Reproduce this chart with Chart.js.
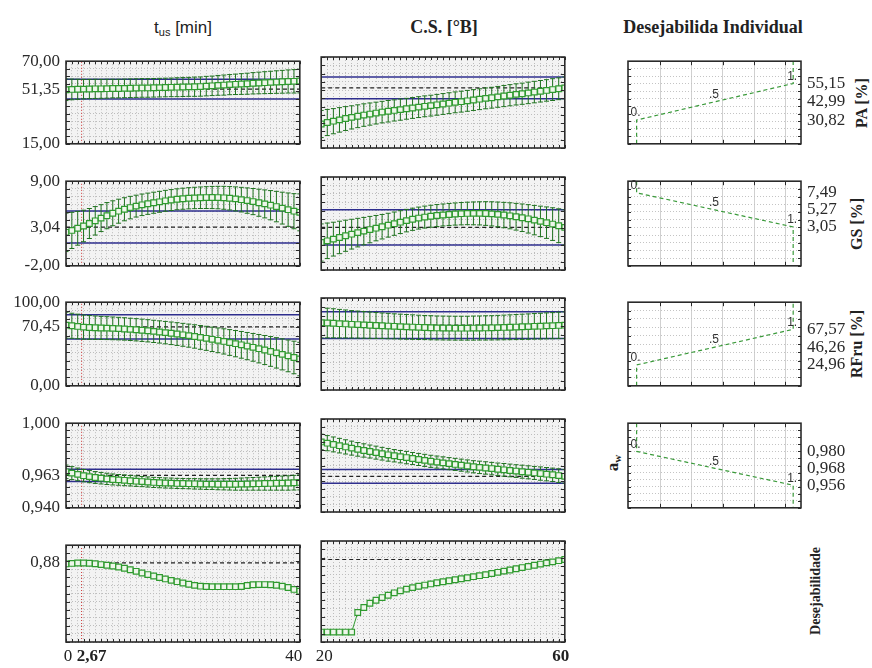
<!DOCTYPE html>
<html>
<head>
<meta charset="utf-8">
<script src="https://cdn.jsdelivr.net/npm/chart.js@4.4.0/dist/chart.umd.min.js"></script>
<style>
  body { margin: 0; width: 872px; height: 668px; position: relative; overflow: hidden; background: #fff; color: #222; }
  canvas { position: absolute; }
  .lbl { position: absolute; white-space: nowrap; transform: translate(-50%, -50%); font-family: "Liberation Serif", "Times New Roman", serif; }
  .rot { position: absolute; white-space: nowrap; transform: translate(-50%, -50%) rotate(-90deg); font-family: "Liberation Serif", "Times New Roman", serif; font-weight: bold; }
  sub { font-size: 0.65em; vertical-align: -0.25em; }
</style>
</head>
<body>
<div class="lbl" style="left:183px;top:28px;font-family:'Liberation Sans',Arial,sans-serif;font-size:17px">t<sub>us</sub> [min]</div>
<div class="lbl" style="left:444px;top:27px;font-size:18px;font-weight:bold">C.S. [°B]</div>
<div class="lbl" style="left:713px;top:27px;font-size:18px;font-weight:bold">Desejabilida Individual</div>
<div class="rot" style="left:862px;top:103px;font-size:16px">PA [%]</div>
<div class="rot" style="left:857px;top:224px;font-size:16px">GS [%]</div>
<div class="rot" style="left:857px;top:344px;font-size:16px">RFru [%]</div>
<div class="rot" style="left:613px;top:463px;font-size:17px">a<sub>w</sub></div>
<div class="rot" style="left:816px;top:591px;font-size:14px">Desejabilidade</div>

<script>
// ---- factor levels ----
const tusX = [0,1,2,3,4,5,6,7,8,9,10,11,12,13,14,15,16,17,18,19,20,21,22,23,24,25,26,27,28,29,30,31,32,33,34,35,36,37,38,39,40];
const csX  = [20,21,22,23,24,25,26,27,28,29,30,31,32,33,34,35,36,37,38,39,40,41,42,43,44,45,46,47,48,49,50,51,52,53,54,55,56,57,58,59,60];
const tusCur = 2.67;
const csCur = 60;

// ---- predicted responses (value, CI half width) ----
const paTus   = [51.0,51.2,51.3,51.4,51.5,51.6,51.6,51.7,51.8,51.8,51.9,52.0,52.1,52.2,52.2,52.3,52.4,52.5,52.6,52.7,52.8,52.9,53.0,53.1,53.4,53.6,53.9,54.1,54.4,54.6,54.8,55.0,55.3,55.5,55.7,55.9,56.1,56.3,56.5,56.6,56.8];
const paTusCI = [7.2,6.9,6.7,6.5,6.4,6.4,6.3,6.3,6.2,6.2,6.2,6.2,6.2,6.2,6.2,6.2,6.2,6.2,6.2,6.3,6.3,6.3,6.4,6.4,6.5,6.5,6.6,6.7,6.7,6.8,6.9,7.0,7.1,7.2,7.3,7.4,7.5,7.6,7.7,7.8,7.9];
const paCs    = [29.5,30.4,31.2,32.0,32.8,33.5,34.2,34.9,35.5,36.1,36.7,37.2,37.7,38.2,38.7,39.2,39.7,40.2,40.6,41.1,41.6,42.1,42.6,43.0,43.5,44.0,44.5,45.0,45.4,45.9,46.4,46.9,47.4,47.8,48.3,48.8,49.3,49.8,50.3,50.8,51.35];
const paCsCI  = [8.2,7.9,7.6,7.4,7.2,7.0,6.9,6.8,6.7,6.6,6.5,6.5,6.4,6.4,6.3,6.3,6.3,6.3,6.3,6.3,6.3,6.3,6.3,6.3,6.3,6.3,6.3,6.3,6.3,6.3,6.4,6.4,6.4,6.4,6.5,6.5,6.5,6.5,6.6,6.6,6.6];

const gsTus   = [2.35,2.6,2.88,3.18,3.5,3.85,4.2,4.52,4.83,5.1,5.35,5.57,5.76,5.93,6.07,6.2,6.32,6.45,6.55,6.65,6.72,6.78,6.82,6.85,6.87,6.88,6.87,6.84,6.78,6.7,6.6,6.48,6.35,6.2,6.05,5.88,5.7,5.5,5.3,5.1,4.95];
const gsTusCI = [2.5,2.35,2.2,2.05,1.95,1.85,1.75,1.7,1.62,1.56,1.5,1.46,1.42,1.4,1.38,1.37,1.36,1.36,1.36,1.36,1.37,1.38,1.39,1.4,1.42,1.44,1.46,1.49,1.52,1.56,1.6,1.65,1.7,1.76,1.82,1.9,1.98,2.07,2.17,2.28,2.4];
const gsCs    = [1.25,1.45,1.65,1.85,2.05,2.24,2.42,2.6,2.78,2.95,3.12,3.3,3.48,3.66,3.84,4.0,4.14,4.26,4.36,4.44,4.51,4.57,4.62,4.66,4.69,4.7,4.7,4.68,4.64,4.58,4.5,4.41,4.3,4.18,4.05,3.9,3.75,3.6,3.43,3.24,3.04];
const gsCsCI  = [2.2,2.1,2.0,1.92,1.84,1.76,1.69,1.62,1.56,1.5,1.45,1.41,1.38,1.35,1.33,1.31,1.3,1.3,1.3,1.3,1.3,1.3,1.31,1.32,1.33,1.35,1.37,1.4,1.43,1.46,1.5,1.54,1.58,1.63,1.68,1.74,1.8,1.86,1.93,2.0,2.08];

const rfTus   = [72.5,71.8,71.0,70.2,69.8,69.5,69.2,69.0,68.7,68.4,68.0,67.5,67.0,66.4,65.8,65.1,64.4,63.6,62.8,61.9,61.0,60.0,59.0,57.9,56.8,55.6,54.4,53.1,51.8,50.4,49.0,47.5,46.0,44.4,42.8,41.1,39.4,37.6,35.8,33.9,32.0];
const rfTusCI = [15.5,15.0,14.7,14.4,14.2,14.0,13.8,13.7,13.6,13.5,13.4,13.3,13.3,13.3,13.3,13.3,13.3,13.4,13.5,13.6,13.7,13.8,14.0,14.2,14.4,14.6,14.8,15.1,15.4,15.7,16.0,16.3,16.6,17.0,17.4,17.8,18.2,18.6,19.0,19.5,20.0];
const rfCs    = [73.2,72.8,72.5,72.1,71.8,71.4,71.1,70.8,70.4,70.1,69.8,69.5,69.2,68.9,68.6,68.4,68.1,67.9,67.7,67.5,67.4,67.3,67.2,67.2,67.2,67.3,67.4,67.5,67.6,67.8,68.0,68.2,68.4,68.7,68.9,69.2,69.4,69.7,69.9,70.2,70.45];
const rfCsCI  = [16.5,16.1,15.8,15.5,15.2,14.9,14.7,14.5,14.3,14.1,13.9,13.8,13.6,13.5,13.4,13.3,13.2,13.1,13.1,13.0,13.0,13.0,13.0,13.0,13.0,13.1,13.1,13.2,13.2,13.3,13.4,13.5,13.6,13.7,13.8,13.9,14.0,14.1,14.2,14.35,14.5];

const awTus   = [0.9655,0.9646,0.9637,0.9628,0.9621,0.9615,0.9610,0.9605,0.9601,0.9598,0.9595,0.9592,0.9589,0.9586,0.9583,0.9580,0.9578,0.9576,0.9575,0.9573,0.9572,0.9571,0.9570,0.9569,0.9568,0.9568,0.9567,0.9567,0.9567,0.9567,0.9568,0.9569,0.9570,0.9571,0.9572,0.9573,0.9574,0.9575,0.9576,0.9578,0.9580];
const awTusCI = [0.0048,0.0046,0.0045,0.0044,0.0043,0.0042,0.0041,0.0040,0.0039,0.0038,0.0038,0.0037,0.0037,0.0036,0.0036,0.0036,0.0036,0.0036,0.0036,0.0036,0.0036,0.0036,0.0037,0.0037,0.0038,0.0038,0.0039,0.0040,0.0041,0.0042,0.0043,0.0044,0.0045,0.0046,0.0047,0.0048,0.0049,0.0050,0.0051,0.0052,0.0053];
const awCs    = [0.9852,0.9844,0.9836,0.9828,0.9820,0.9812,0.9804,0.9797,0.9790,0.9783,0.9776,0.9769,0.9763,0.9757,0.9751,0.9745,0.9739,0.9733,0.9727,0.9722,0.9717,0.9712,0.9707,0.9702,0.9697,0.9692,0.9688,0.9684,0.9680,0.9676,0.9672,0.9668,0.9664,0.9660,0.9656,0.9652,0.9648,0.9644,0.9640,0.9635,0.9630];
const awCsCI  = [0.0050,0.0049,0.0048,0.0047,0.0046,0.0045,0.0044,0.0043,0.0042,0.0042,0.0041,0.0041,0.0040,0.0040,0.0040,0.0039,0.0039,0.0039,0.0039,0.0039,0.0039,0.0039,0.0039,0.0039,0.0039,0.0039,0.0040,0.0040,0.0040,0.0040,0.0041,0.0041,0.0041,0.0042,0.0042,0.0042,0.0043,0.0043,0.0043,0.0044,0.0044];

// overall desirability
const desTus = [0.874,0.877,0.880,0.880,0.878,0.875,0.870,0.866,0.861,0.855,0.847,0.838,0.828,0.818,0.808,0.799,0.790,0.781,0.772,0.764,0.756,0.748,0.741,0.736,0.734,0.733,0.733,0.733,0.733,0.733,0.734,0.740,0.745,0.746,0.746,0.745,0.742,0.736,0.728,0.716,0.705];
const desCs  = [0.449,0.449,0.449,0.449,0.449,0.449,0.565,0.595,0.620,0.638,0.654,0.668,0.682,0.694,0.704,0.713,0.721,0.728,0.735,0.742,0.748,0.754,0.760,0.766,0.772,0.778,0.784,0.790,0.797,0.804,0.811,0.818,0.825,0.832,0.839,0.846,0.853,0.860,0.866,0.873,0.880];

// ---- response axes: PA, GS, RFru, aw, desirability ----
const respMin  = [15, -2, 0, 0.940, 0.39];
const respMax  = [70, 9, 100, 1.000, 0.99];
const respStep = [5, 1, 10, 0.005, 0.05];
const respDec  = [2, 2, 2, 3, 2];
const respCur  = [51.35, 3.04, 70.45, 0.963, 0.88];
const respLo   = [44.75, 0.96, 55.95, 0.9586, null];
const respHi   = [57.95, 5.12, 84.95, 0.9674, null];

// ---- individual desirability functions (d level vs response) ----
const dLevel = [0, 0, 0.5, 1, 1];
const dMarks = ['0.', '.5', '1.'];
const paDes = [15, 30.82, 42.99, 55.15, 70];
const gsDes = [9, 7.49, 5.27, 3.05, -2];
const rfDes = [0, 24.96, 46.26, 67.57, 100];
const awDes = [1.000, 0.980, 0.968, 0.956, 0.940];
const dGrid = [0.15, 0.35, 0.55, 0.75, 0.95];

const rowTop = [57, 177, 298, 419, 541];
const rowBot = [148, 270, 390, 512, 642];

const SERIF = '"Liberation Serif", "Times New Roman", serif';
const SANS = '"Liberation Sans", Arial, sans-serif';
const GREEN = '#2f9a2f', CI_GREEN = '#1f721f', SQ_FILL = '#eef6ea';
const BLUE = '#2e2e8e', FRAME = '#2a2a2a';

const fmt = (v, d) => v.toFixed(d).replace('.', ',');
function gridValues(min, max, step) {
  const n = Math.round((max - min) / step), out = [];
  for (let i = 0; i <= n; i++) out.push(+(min + i * step).toFixed(6));
  return out;
}
const setTicks = vals => s => { s.ticks = vals.map(v => ({ value: v })); };

// background, CI whiskers, inner tick marks, frame and extra labels
const deco = {
  id: 'deco',
  beforeDraw(chart, args, o) {
    const { ctx, chartArea: a } = chart;
    ctx.save(); ctx.fillStyle = o.bg; ctx.fillRect(a.left, a.top, a.width, a.height); ctx.restore();
  },
  beforeDatasetDraw(chart, args) {
    const ds = chart.data.datasets[args.index];
    if (!ds.ci) return;
    const { ctx, chartArea: a, scales: { y } } = chart;
    ctx.save();
    ctx.beginPath(); ctx.rect(a.left, a.top, a.width, a.height); ctx.clip();
    ctx.strokeStyle = CI_GREEN; ctx.lineWidth = 1;
    ctx.beginPath();
    args.meta.data.forEach((pt, i) => {
      const v = ds.data[i].y;
      const hi = y.getPixelForValue(v + ds.ci[i]), lo = y.getPixelForValue(v - ds.ci[i]);
      ctx.moveTo(pt.x, hi); ctx.lineTo(pt.x, lo);
      ctx.moveTo(pt.x - 2.5, hi); ctx.lineTo(pt.x + 2.5, hi);
      ctx.moveTo(pt.x - 2.5, lo); ctx.lineTo(pt.x + 2.5, lo);
    });
    ctx.stroke(); ctx.restore();
  },
  afterDraw(chart, args, o) {
    const { ctx, chartArea: a, scales: { x, y } } = chart;
    ctx.save();
    ctx.strokeStyle = FRAME; ctx.lineWidth = 1;
    ctx.beginPath();
    x.ticks.forEach(t => {
      const px = Math.round(x.getPixelForValue(t.value)) + 0.5;
      ctx.moveTo(px, a.top); ctx.lineTo(px, a.top + o.tx);
      ctx.moveTo(px, a.bottom); ctx.lineTo(px, a.bottom - o.tx);
    });
    y.ticks.forEach(t => {
      const py = Math.round(y.getPixelForValue(t.value)) + 0.5;
      ctx.moveTo(a.left, py); ctx.lineTo(a.left + o.ty, py);
      ctx.moveTo(a.right, py); ctx.lineTo(a.right - o.ty, py);
    });
    ctx.stroke();
    ctx.lineWidth = 1.6;
    ctx.strokeRect(a.left, a.top, a.width, a.height);

    if (o.dText) {
      const meta = chart.getDatasetMeta(0);
      ctx.fillStyle = '#333'; ctx.font = '12px ' + SANS;
      ctx.textAlign = 'left'; ctx.textBaseline = 'bottom';
      o.dText.forEach((t, k) => { const p = meta.data[k + 1]; ctx.fillText(t, p.x - 6, p.y - 1); });
    }
    if (o.xText) {
      ctx.fillStyle = '#222'; ctx.textAlign = 'center'; ctx.textBaseline = 'middle';
      o.xText.forEach(l => {
        ctx.font = (l.bold ? 'bold ' : '') + '17px ' + SERIF;
        ctx.fillText(l.t, x.getPixelForValue(l.v) + l.dx, a.bottom + 15);
      });
    }
    ctx.restore();
  }
};

function mount(left, top, w, h) {
  const c = document.createElement('canvas');
  c.width = w; c.height = h;
  c.style.left = left + 'px'; c.style.top = top + 'px';
  c.style.width = w + 'px'; c.style.height = h + 'px';
  document.body.appendChild(c);
  return c.getContext('2d');
}

const hline = (x0, x1, v, color, dash, width) => ({
  data: [{ x: x0, y: v }, { x: x1, y: v }], borderColor: color, borderWidth: width,
  borderDash: dash, pointRadius: 0, fill: false
});

// one profile panel: response r against factor col (0 = t_us, 1 = C.S.)
function profilePanel(r, col, xs, ys, ci) {
  const isTus = col === 0, last = r === 4;
  const xMin = xs[0], xMax = xs[xs.length - 1];
  const left = isTus ? 0 : 316, width = isTus ? 305 : 254;
  const top = rowTop[r] - 12, height = rowBot[r] - rowTop[r] + (last ? 44 : 24);
  const datasets = [{
    data: xs.map((x, i) => ({ x, y: ys[i] })), ci,
    borderColor: GREEN, borderWidth: 1, pointStyle: 'rect', pointRadius: 4,
    pointBorderColor: GREEN, pointBackgroundColor: SQ_FILL, pointBorderWidth: 1.2
  }];
  if (respLo[r] != null) {
    datasets.push(hline(xMin, xMax, respHi[r], BLUE, [], 1.5));
    datasets.push(hline(xMin, xMax, respLo[r], BLUE, [], 1.5));
  }
  datasets.push(hline(xMin, xMax, respCur[r], '#222', [4, 3], 1.2));
  if (isTus) datasets.push({
    data: [{ x: tusCur, y: respMin[r] }, { x: tusCur, y: respMax[r] }],
    borderColor: '#cc3333', borderWidth: 1, borderDash: [1, 2], pointRadius: 0
  });

  const yLabels = last ? [respCur[r]] : [respMin[r], respCur[r], respMax[r]];
  const xText = !last ? null : isTus
    ? [{ v: 0, t: '0', dx: 2 }, { v: tusCur, t: fmt(tusCur, 2), bold: true, dx: 10 }, { v: 40, t: '40', dx: -6 }]
    : [{ v: 20, t: '20', dx: 3 }, { v: csCur, t: String(csCur), bold: true, dx: -4 }];

  new Chart(mount(left, top, width, height), {
    type: 'line',
    data: { datasets },
    options: {
      responsive: false, animation: false,
      layout: { padding: { top: 12, bottom: last ? 32 : 12, left: isTus ? 0 : 5, right: isTus ? 3 : 4 } },
      plugins: {
        legend: { display: false }, tooltip: { enabled: false },
        deco: { bg: '#f3f3f3', tx: 3, ty: 4, xText }
      },
      scales: {
        x: {
          type: 'linear', min: xMin, max: xMax,
          afterBuildTicks: setTicks(xs), afterFit: s => { s.height = 0; },
          ticks: { display: false },
          grid: { color: '#bdbdbd', drawTicks: false }, border: { display: false, dash: [1, 2] }
        },
        y: {
          type: 'linear', min: respMin[r], max: respMax[r],
          afterBuildTicks: setTicks(gridValues(respMin[r], respMax[r], respStep[r])),
          afterFit: s => { s.width = 0; },
          ticks: { display: false },
          grid: { color: '#bdbdbd', drawTicks: false }, border: { display: false, dash: [1, 2] }
        },
        yl: {
          display: isTus, position: 'left', type: 'linear', min: respMin[r], max: respMax[r],
          afterBuildTicks: setTicks(yLabels), afterFit: s => { s.width = isTus ? 66 : 0; },
          grid: { display: false, drawTicks: false }, border: { display: false },
          ticks: { padding: 6, color: '#2a2a2a', font: { family: SERIF, size: 17 }, callback: v => fmt(v, respDec[r]) }
        }
      }
    },
    plugins: [deco]
  });
}

// individual desirability panel for response r
function desPanel(r, resp) {
  const top = rowTop[r] - 12, height = rowBot[r] - rowTop[r] + 24;
  new Chart(mount(590, top, 282, height), {
    type: 'line',
    data: {
      datasets: [{
        data: dLevel.map((d, i) => ({ x: d, y: resp[i] })),
        borderColor: '#3a9a3a', borderWidth: 1.2, borderDash: [4, 3], pointRadius: 0
      }]
    },
    options: {
      responsive: false, animation: false,
      layout: { padding: { top: 12, bottom: 12, left: 38, right: 0 } },
      plugins: {
        legend: { display: false }, tooltip: { enabled: false },
        deco: { bg: '#ffffff', tx: 4, ty: 3, dText: dMarks }
      },
      scales: {
        x: {
          type: 'linear', min: -0.055, max: 1.05,
          afterBuildTicks: setTicks(dGrid), afterFit: s => { s.height = 0; },
          ticks: { display: false },
          grid: { color: '#d0d0d0', drawTicks: false }, border: { display: false }
        },
        y: {
          type: 'linear', min: respMin[r], max: respMax[r],
          afterBuildTicks: setTicks(gridValues(respMin[r], respMax[r], respStep[r])),
          afterFit: s => { s.width = 0; },
          ticks: { display: false },
          grid: { color: '#c4c4c4', drawTicks: false }, border: { display: false, dash: [1, 2] }
        },
        yr: {
          position: 'right', type: 'linear', min: respMin[r], max: respMax[r],
          afterBuildTicks: setTicks(resp.slice(1, 4)), afterFit: s => { s.width = 71; },
          grid: { display: false, drawTicks: false }, border: { display: false },
          ticks: { padding: 6, color: '#2a2a2a', font: { family: SERIF, size: 17 }, callback: v => fmt(v, respDec[r]) }
        }
      }
    },
    plugins: [deco]
  });
}

const byTus = [[paTus, paTusCI], [gsTus, gsTusCI], [rfTus, rfTusCI], [awTus, awTusCI], [desTus, null]];
const byCs  = [[paCs, paCsCI], [gsCs, gsCsCI], [rfCs, rfCsCI], [awCs, awCsCI], [desCs, null]];
const desCurves = [paDes, gsDes, rfDes, awDes];

for (let r = 0; r < 5; r++) {
  profilePanel(r, 0, tusX, byTus[r][0], byTus[r][1]);
  profilePanel(r, 1, csX, byCs[r][0], byCs[r][1]);
  if (r < 4) desPanel(r, desCurves[r]);
}
</script>
</body>
</html>
